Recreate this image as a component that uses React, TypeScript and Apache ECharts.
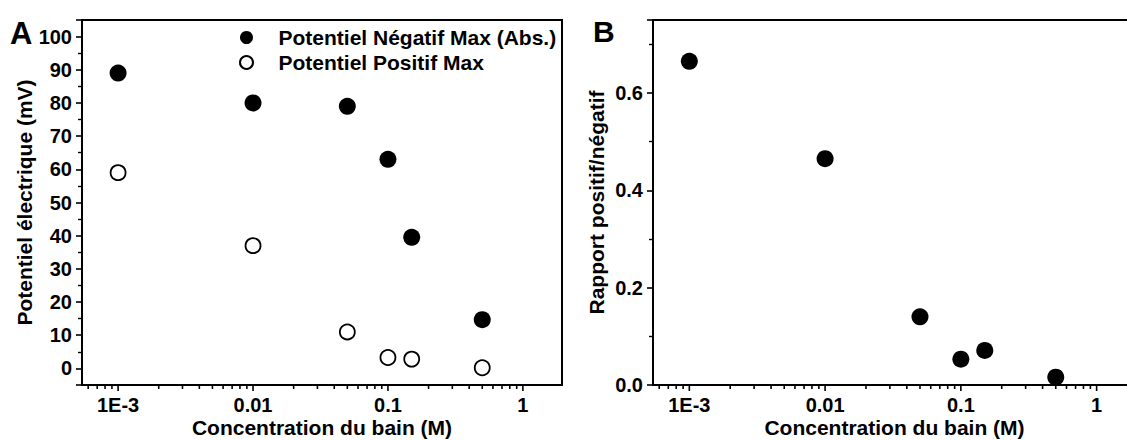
import React, { useEffect, useRef } from 'react';
import * as echarts from 'echarts';

// Bath concentrations (M)
const concentrations = [0.001, 0.01, 0.05, 0.1, 0.15, 0.5];
// Panel A: electric potential (mV)
const negativeMax = [89, 80, 79, 63, 39.5, 14.7];
const positiveMax = [59, 37, 11, 3.3, 2.8, 0.2];
// Panel B: ratio positive / negative
const ratio = [0.665, 0.465, 0.14, 0.053, 0.071, 0.016];

// log x-axis ticks
const xTickValues = [0.001, 0.01, 0.1, 1];
const xTickLabels = ['1E-3', '0.01', '0.1', '1'];
const xMinorTickValues = [
  0.0006, 0.0007, 0.0008, 0.0009,
  0.002, 0.003, 0.004, 0.005, 0.006, 0.007, 0.008, 0.009,
  0.02, 0.03, 0.04, 0.05, 0.06, 0.07, 0.08, 0.09,
  0.2, 0.3, 0.4, 0.5, 0.6, 0.7, 0.8, 0.9,
];

const seriesNames = ['Potentiel Négatif Max (Abs.)', 'Potentiel Positif Max'];
const xTitle = 'Concentration du bain (M)';
const yTitleA = 'Potentiel électrique (mV)';
const yTitleB = 'Rapport positif/négatif';

const FONT = '"Liberation Sans", Arial, Helvetica, sans-serif';
const X_MIN = 0.00054;
const X_MAX = 1.95;

function xLabel(v: number): string {
  const idx = xTickValues.findIndex((t) => Math.abs(Math.log10(v) - Math.log10(t)) < 1e-6);
  return idx >= 0 ? xTickLabels[idx] : '';
}

const labelStyle = { color: '#000', fontSize: 20, fontWeight: 'bold' as const, fontFamily: FONT, lineHeight: 20 };
const titleStyle = { color: '#000', fontSize: 21, fontWeight: 'bold' as const, fontFamily: FONT, lineHeight: 21 };

function xAxisDef(gridIndex: number) {
  return {
    type: 'log',
    gridIndex,
    logBase: 10,
    min: X_MIN,
    max: X_MAX,
    name: xTitle,
    nameLocation: 'middle',
    nameGap: 32,
    nameMoveOverlap: false,
    nameTextStyle: titleStyle,
    axisLine: { show: true, onZero: false, lineStyle: { color: '#000', width: 2 } },
    axisTick: { show: false },
    minorTick: { show: false },
    splitLine: { show: false },
    axisLabel: {
      ...labelStyle,
      margin: 10,
      showMinLabel: false,
      showMaxLabel: false,
      formatter: (v: number) => xLabel(v),
    },
  };
}

function tickSeries(axisIdx: number, yBase: number) {
  const data = [
    ...xTickValues.map((v) => [v, yBase, 1]),
    ...xMinorTickValues.map((v) => [v, yBase, 0]),
  ];
  return {
    type: 'custom',
    xAxisIndex: axisIdx,
    yAxisIndex: axisIdx,
    silent: true,
    clip: false,
    z: 10,
    data,
    renderItem: (_params: any, api: any) => {
      const p = api.coord([api.value(0), api.value(1)]);
      const len = api.value(2) ? 6 : 4;
      return {
        type: 'line',
        shape: { x1: p[0], y1: p[1], x2: p[0], y2: p[1] + len },
        style: { stroke: '#000', lineWidth: 1.6 },
      };
    },
  };
}

export default function App() {
  const ref = useRef<HTMLDivElement>(null);

  useEffect(() => {
    if (!ref.current) return;
    const chart = echarts.init(ref.current, undefined, { renderer: 'svg' });
    const option: any = {
      animation: false,
      backgroundColor: '#fff',
      textStyle: { fontFamily: FONT },
      grid: [
        { left: 82, top: 20, width: 480, height: 365, show: true, borderColor: '#000', borderWidth: 2, backgroundColor: 'transparent', containLabel: false, outerBoundsMode: 'none' },
        { left: 653, top: 20, width: 483, height: 365, show: true, borderColor: '#000', borderWidth: 2, backgroundColor: 'transparent', containLabel: false, outerBoundsMode: 'none' },
      ],
      legend: {
        data: seriesNames,
        orient: 'vertical',
        left: 239,
        top: 27,
        itemWidth: 54,
        itemHeight: 13,
        itemGap: 4,
        padding: 0,
        selectedMode: false,
        textStyle: { ...titleStyle },
      },
      graphic: [
        { type: 'text', x: 10, y: 33, style: { text: 'A', fontSize: 31, fontWeight: 'bold', fontFamily: FONT, fill: '#000', verticalAlign: 'middle', align: 'left' } },
        { type: 'text', x: 593, y: 31, style: { text: 'B', fontSize: 30, fontWeight: 'bold', fontFamily: FONT, fill: '#000', verticalAlign: 'middle', align: 'left' } },
      ],
      xAxis: [xAxisDef(0), xAxisDef(1)],
      yAxis: [
        {
          type: 'value',
          gridIndex: 0,
          min: -5,
          max: 105,
          splitNumber: 11,
          name: yTitleA,
          nameLocation: 'middle',
          nameGap: 47,
          nameMoveOverlap: false,
          nameTextStyle: titleStyle,
          axisLine: { show: true, onZero: false, lineStyle: { color: '#000', width: 2 } },
          axisTick: { show: true, length: 6, lineStyle: { color: '#000', width: 1.6 } },
          minorTick: { show: true, splitNumber: 2, length: 4, lineStyle: { color: '#000', width: 1.4 } },
          splitLine: { show: false },
          axisLabel: { ...labelStyle, margin: 10, showMinLabel: false, showMaxLabel: false },
        },
        {
          type: 'value',
          gridIndex: 1,
          min: 0,
          max: 0.75,
          interval: 0.2,
          name: yTitleB,
          nameLocation: 'middle',
          nameGap: 46,
          nameMoveOverlap: false,
          nameTextStyle: titleStyle,
          axisLine: { show: true, onZero: false, lineStyle: { color: '#000', width: 2 } },
          axisTick: { show: true, length: 6, lineStyle: { color: '#000', width: 1.6 } },
          minorTick: { show: true, splitNumber: 2, length: 4, lineStyle: { color: '#000', width: 1.4 } },
          splitLine: { show: false },
          axisLabel: { ...labelStyle, margin: 10, showMaxLabel: false, formatter: (v: number) => v.toFixed(1) },
        },
      ],
      series: [
        {
          name: seriesNames[0],
          type: 'scatter',
          xAxisIndex: 0,
          yAxisIndex: 0,
          symbol: 'circle',
          symbolSize: 17,
          itemStyle: { color: '#000', opacity: 1 },
          emphasis: { disabled: true },
          data: concentrations.map((c, i) => [c, negativeMax[i]]),
        },
        {
          name: seriesNames[1],
          type: 'scatter',
          xAxisIndex: 0,
          yAxisIndex: 0,
          symbol: 'circle',
          symbolSize: 15,
          itemStyle: { color: '#fff', borderColor: '#000', borderWidth: 1.8, opacity: 1 },
          emphasis: { disabled: true },
          data: concentrations.map((c, i) => [c, positiveMax[i]]),
        },
        {
          name: 'Rapport',
          type: 'scatter',
          xAxisIndex: 1,
          yAxisIndex: 1,
          symbol: 'circle',
          symbolSize: 17,
          clip: false,
          itemStyle: { color: '#000', opacity: 1 },
          emphasis: { disabled: true },
          data: concentrations.map((c, i) => [c, ratio[i]]),
        },
        tickSeries(0, -5),
        tickSeries(1, 0),
      ],
    };
    chart.setOption(option);
    return () => chart.dispose();
  }, []);

  return (
    <div style={{ position: 'absolute', left: 0, top: 0, width: 1127, height: 440, overflow: 'hidden', background: '#fff' }}>
      <div ref={ref} style={{ width: 1140, height: 440 }} />
    </div>
  );
}
